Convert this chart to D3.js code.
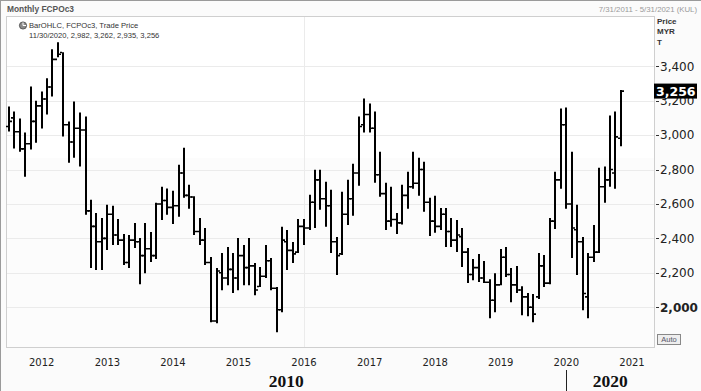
<!DOCTYPE html>
<meta charset="utf-8">
<style>
body { margin: 0; background: #fbfbfb; }
svg { display: block; font-family: "Liberation Sans", Arial, sans-serif; }
.grid line { stroke: #ebebeb; stroke-width: 1px; }
.bars line { stroke: #000; }
</style>
<svg width="701" height="391"></svg>
<script src="https://cdn.jsdelivr.net/npm/d3@7"></script>
<script>

// monthly FCPOc3 bars, Jul 2011 .. Nov 2020 (one row per year)
var firstMonth = new Date(2011, 6, 1);
var lastMonth = new Date(2020, 10, 1);

var open = [
  3050, 3100, 3020, 2920, 2950, 3080,
  3170, 3210, 3280, 3440, 3480, 3060, 2960, 3040, 3030, 2560, 2470, 2380,
  2400, 2540, 2420, 2390, 2260, 2390, 2380, 2300, 2340, 2300, 2600, 2620,
  2580, 2590, 2780, 2650, 2640, 2440, 2390, 2260, 1920, 2200, 2170, 2220,
  2170, 2300, 2230, 2240, 2120, 2180, 2270, 2110, 1985, 2380, 2330, 2320,
  2470, 2460, 2610, 2740, 2630, 2590, 2380, 2310, 2540, 2630, 2780, 3060,
  3120, 3040, 2770, 2660, 2500, 2510, 2490, 2650, 2700, 2720, 2800, 2610,
  2500, 2470, 2540, 2440, 2390, 2410, 2320, 2190, 2230, 2170, 2145, 2040,
  2130, 2290, 2190, 2130, 2100, 2060, 2000, 2060, 2240, 2140, 2500, 2740,
  3060, 2600, 2450, 2380, 2060, 2290, 2320, 2700, 2740, 2780, 2982
];
var high = [
  3167, 3137, 3097, 3015, 3283, 3200,
  3254, 3330, 3499, 3540, 3482, 3079, 3196, 3132, 3108, 2624, 2548, 2519,
  2595, 2589, 2513, 2426, 2420, 2490, 2402, 2490, 2437, 2607, 2700, 2690,
  2677, 2828, 2927, 2712, 2645, 2519, 2461, 2292, 2228, 2315, 2350, 2315,
  2402, 2362, 2402, 2257, 2233, 2362, 2286, 2117, 2467, 2449, 2379, 2513,
  2513, 2653, 2799, 2799, 2729, 2682, 2408, 2671, 2741, 2834, 3108, 3213,
  3184, 3137, 2904, 2723, 2700, 2548, 2712, 2787, 2904, 2869, 2846, 2636,
  2647, 2577, 2577, 2519, 2507, 2461, 2344, 2280, 2309, 2268, 2163, 2198,
  2338, 2350, 2228, 2239, 2122, 2082, 2076, 2315, 2303, 2519, 2787, 3155,
  3161, 2904, 2595, 2408, 2315, 2478, 2811, 2817, 3114, 3137, 3262
];
var low = [
  3021, 2922, 2904, 2758, 2916, 2955,
  3038, 3120, 3225, 3452, 2992, 2840, 2869, 2817, 2537, 2228, 2216, 2216,
  2332, 2362, 2362, 2245, 2228, 2344, 2134, 2198, 2262, 2280, 2507, 2537,
  2484, 2525, 2636, 2572, 2420, 2362, 2245, 1912, 1907, 2099, 2128, 2082,
  2099, 2128, 2128, 2070, 2117, 2169, 2099, 1854, 1971, 2216, 2257, 2315,
  2362, 2449, 2461, 2566, 2467, 2315, 2187, 2303, 2478, 2531, 2706, 3015,
  3015, 2723, 2642, 2449, 2467, 2426, 2480, 2572, 2688, 2647, 2554, 2414,
  2432, 2449, 2350, 2350, 2321, 2233, 2140, 2157, 2146, 2140, 1936, 1971,
  2128, 2175, 2029, 2082, 1953, 1948, 1912, 2047, 2117, 2134, 2455, 2688,
  2572, 2286, 2187, 1983, 1936, 2262, 2315, 2607, 2700, 2688, 2935
];
var close = [
  3080, 3020, 2920, 2950, 3080, 3170,
  3210, 3280, 3440, 3470, 3060, 2960, 3040, 3030, 2560, 2470, 2380, 2400,
  2540, 2420, 2390, 2260, 2390, 2380, 2300, 2340, 2300, 2600, 2620, 2580,
  2590, 2780, 2650, 2640, 2440, 2390, 2260, 1920, 2210, 2170, 2220, 2170,
  2300, 2230, 2240, 2100, 2180, 2270, 2110, 1985, 2390, 2330, 2310, 2470,
  2460, 2610, 2740, 2630, 2590, 2380, 2300, 2540, 2630, 2780, 3050, 3120,
  3040, 2770, 2660, 2500, 2510, 2490, 2650, 2700, 2720, 2800, 2610, 2500,
  2470, 2540, 2440, 2390, 2420, 2320, 2190, 2230, 2170, 2145, 2040, 2130,
  2290, 2190, 2130, 2100, 2060, 2000, 1960, 2240, 2140, 2500, 2740, 3060,
  2600, 2460, 2380, 2080, 2290, 2320, 2700, 2740, 2800, 2990, 3256
];

var priceTicks = [2000, 2200, 2400, 2600, 2800, 3000, 3200, 3400];
var yearTicks = [2012, 2013, 2014, 2015, 2016, 2017, 2018, 2019, 2020, 2021];
var decades = [2010, 2020];
var lastLabel = "11/30/2020, 2,982, 3,262, 2,935, 3,256";

var svg = d3.select("svg"),
    width = +svg.attr("width"),
    height = +svg.attr("height");

var plot = {left: 6, right: 654, top: 16, bottom: 347};

var x = d3.scaleTime()
    .domain([new Date(2012, 0, 1), new Date(2021, 0, 1)])
    .range([41.7, 632]);

var y = d3.scaleLinear()
    .domain([2000, 3400])
    .range([307.2, 66.3]);

var months = d3.timeMonth.range(firstMonth, d3.timeMonth.offset(lastMonth, 1));
var data = months.map(function(d, i) {
  return {date: d, o: open[i], h: high[i], l: low[i], c: close[i]};
});

// frame
svg.append("rect").attr("width", width).attr("height", height).attr("fill", "#fbfbfb");
svg.append("line").attr("x1", 0).attr("x2", width).attr("y1", 0.5).attr("y2", 0.5).attr("stroke", "#9a9a9a");
svg.append("line").attr("x1", 0.5).attr("x2", 0.5).attr("y1", 0).attr("y2", height).attr("stroke", "#9a9a9a");

svg.append("rect")
    .attr("x", plot.left).attr("y", plot.top)
    .attr("width", plot.right - plot.left).attr("height", plot.bottom - plot.top)
    .attr("fill", "#ffffff");
svg.append("rect")
    .attr("x", plot.left).attr("y", 158)
    .attr("width", plot.right - plot.left).attr("height", plot.bottom - 158)
    .attr("fill", "#fcfcfc");

// grid
var grid = svg.append("g").attr("class", "grid");
grid.selectAll("line.h")
    .data(priceTicks)
  .enter().append("line")
    .attr("class", "h")
    .attr("x1", plot.left).attr("x2", plot.right)
    .attr("y1", function(d) { return Math.round(y(d)) + 0.5; })
    .attr("y2", function(d) { return Math.round(y(d)) + 0.5; });
grid.append("line")
    .attr("x1", Math.round(x(new Date(2016, 0, 1))) + 0.5)
    .attr("x2", Math.round(x(new Date(2016, 0, 1))) + 0.5)
    .attr("y1", plot.top).attr("y2", plot.bottom);

svg.append("rect")
    .attr("x", plot.left + 0.5).attr("y", plot.top + 0.5)
    .attr("width", plot.right - plot.left).attr("height", plot.bottom - plot.top)
    .attr("fill", "none").attr("stroke", "#cfcfcf");

// OHLC bars
var bars = svg.append("g").attr("class", "bars")
  .selectAll("g")
  .data(data)
  .enter().append("g")
    .attr("transform", function(d) { return "translate(" + Math.round(x(d.date)) + ",0)"; });

bars.append("line")
    .attr("stroke-width", 2)
    .attr("x1", 0).attr("x2", 0)
    .attr("y1", function(d) { return y(d.h); })
    .attr("y2", function(d) { return y(d.l); });
bars.append("line")
    .attr("stroke-width", 1.6)
    .attr("x1", -3).attr("x2", -1)
    .attr("y1", function(d) { return y(d.o); })
    .attr("y2", function(d) { return y(d.o); });
bars.append("line")
    .attr("stroke-width", 1.6)
    .attr("x1", 1).attr("x2", 3)
    .attr("y1", function(d) { return y(d.c); })
    .attr("y2", function(d) { return y(d.c); });

// header texts
svg.append("text")
    .attr("x", 7).attr("y", 12)
    .attr("font-size", "8.4px").attr("font-weight", "bold").attr("fill", "#555")
    .text("Monthly FCPOc3");
svg.append("text")
    .attr("x", 697).attr("y", 12).attr("text-anchor", "end")
    .attr("font-size", "7.8px").attr("fill", "#9a9a9a")
    .text("7/31/2011 - 5/31/2021 (KUL)");

var legend = svg.append("g");
legend.append("circle").attr("cx", 23).attr("cy", 25.5).attr("r", 3.6)
    .attr("fill", "#8a8a8a").attr("stroke", "#444").attr("stroke-width", 0.8);
legend.append("path").attr("d", "M23,22.5V25.5H26").attr("fill", "none").attr("stroke", "#fff").attr("stroke-width", 1);
legend.append("text").attr("x", 29).attr("y", 28.3)
    .attr("font-size", "7.6px").attr("fill", "#333")
    .text("BarOHLC, FCPOc3, Trade Price");
legend.append("text").attr("x", 29).attr("y", 38.3)
    .attr("font-size", "7.6px").attr("fill", "#333")
    .text(lastLabel);

// right axis
var units = ["Price", "MYR", "T"];
svg.selectAll("text.unit")
    .data(units)
  .enter().append("text")
    .attr("class", "unit")
    .attr("x", 657).attr("y", function(d, i) { return 23.5 + i * 10.5; })
    .attr("font-size", "8px").attr("font-weight", "bold").attr("fill", "#333")
    .text(function(d) { return d; });

var fmt = d3.format(",");
var yAxis = svg.append("g").attr("font-family", "'DejaVu Sans', Verdana, sans-serif");
yAxis.selectAll("line")
    .data(priceTicks)
  .enter().append("line")
    .attr("x1", 656).attr("x2", 659)
    .attr("y1", function(d) { return Math.round(y(d)) + 0.5; })
    .attr("y2", function(d) { return Math.round(y(d)) + 0.5; })
    .attr("stroke", "#333");
yAxis.selectAll("text")
    .data(priceTicks)
  .enter().append("text")
    .attr("x", 660).attr("y", function(d) { return y(d) + 4.3; })
    .attr("font-size", "12px").attr("fill", "#222")
    .attr("font-weight", function(d) { return d === 2000 ? "bold" : "normal"; })
    .text(function(d) { return fmt(d); });

// last price marker sits over the 3,200 label, as in the terminal
var last = data[data.length - 1];
svg.append("rect")
    .attr("x", 654).attr("y", y(last.c) - 7.5).attr("width", 43).attr("height", 15)
    .attr("fill", "#000");
svg.append("text")
    .attr("x", 656).attr("y", y(last.c) + 4.5)
    .attr("font-family", "'DejaVu Sans', Verdana, sans-serif")
    .attr("font-size", "12.5px").attr("font-weight", "bold").attr("fill", "#fff")
    .text(fmt(last.c));

svg.append("rect").attr("x", 657.5).attr("y", 334.5).attr("width", 23).attr("height", 10)
    .attr("fill", "#eeeeee").attr("stroke", "#888");
svg.append("text").attr("x", 669).attr("y", 342.3).attr("text-anchor", "middle")
    .attr("font-size", "7.5px").attr("fill", "#556").text("Auto");

// time axis
var xAxis = svg.append("g").attr("font-family", "'DejaVu Sans', Verdana, sans-serif");
xAxis.selectAll("text")
    .data(yearTicks)
  .enter().append("text")
    .attr("x", function(d) { return x(new Date(d, 0, 1)); })
    .attr("y", 366)
    .attr("text-anchor", "middle")
    .attr("font-size", "10px").attr("fill", "#222")
    .text(function(d) { return d; });

svg.selectAll("text.decade")
    .data(decades)
  .enter().append("text")
    .attr("class", "decade")
    .attr("x", function(d) {
      var a = Math.max(plot.left, x(new Date(d, 0, 1))),
          b = Math.min(plot.right, x(new Date(d + 10, 0, 1)));
      return (a + b) / 2;
    })
    .attr("y", 387)
    .attr("text-anchor", "middle")
    .attr("font-family", "'Liberation Serif', 'Times New Roman', serif")
    .attr("font-size", "17.5px").attr("font-weight", "bold").attr("fill", "#111")
    .text(function(d) { return d; });

svg.append("line")
    .attr("x1", Math.round(x(new Date(2020, 0, 1))) + 0.5)
    .attr("x2", Math.round(x(new Date(2020, 0, 1))) + 0.5)
    .attr("y1", 370).attr("y2", 391)
    .attr("stroke", "#222");

</script>
